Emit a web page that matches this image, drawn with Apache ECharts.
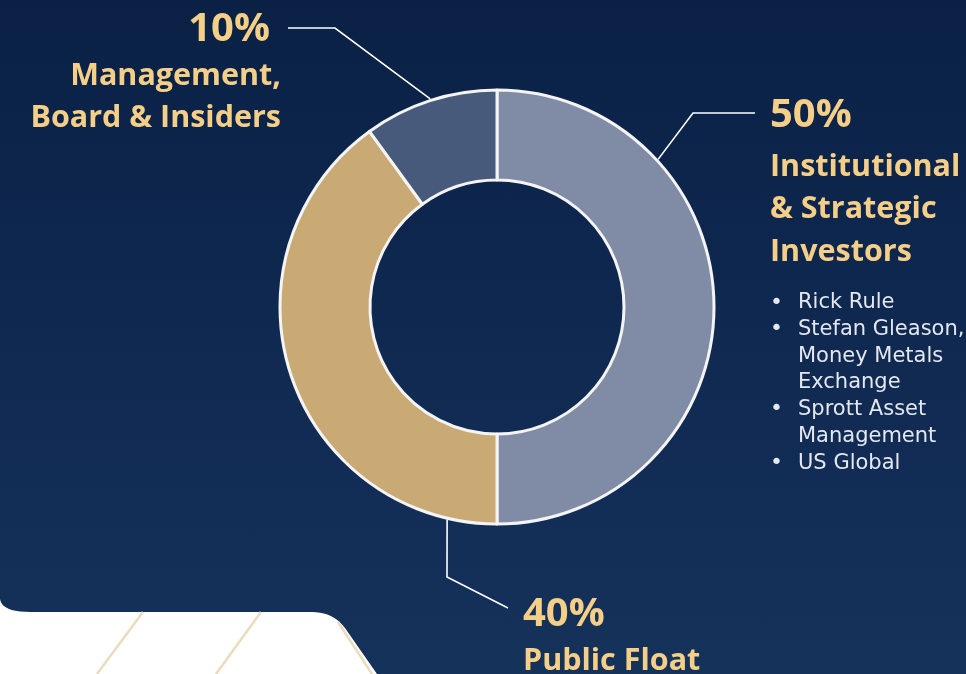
<!DOCTYPE html>
<html><head><meta charset="utf-8">
<script src="https://cdn.jsdelivr.net/npm/echarts@6/dist/echarts.min.js"></script>
<style>
html,body{margin:0;padding:0;}
#c{width:966px;height:674px;background:linear-gradient(180deg,#0a2145 0%,#0f2850 45%,#15325b 100%);}
</style>
</head><body><div id="c"></div>
<script>
// ---- data ----
const categories = ['Institutional & Strategic Investors', 'Public Float', 'Management, Board & Insiders'];
const nameLines = [['Institutional', '& Strategic', 'Investors'], ['Public Float'], ['Management,', 'Board & Insiders']];
const values = [50, 40, 10];
const investors = [['Rick Rule'], ['Stefan Gleason,', 'Money Metals', 'Exchange'], ['Sprott Asset', 'Management'], ['US Global']];

// ---- styles / layout ----
const colors = ['#808ca6', '#c9aa74', '#475a7b'];
const GOLD = '#f5cf88';
const CX = 497, CY = 307, R_IN = 127, R_OUT = 217;
const labelLayoutCfg = [
  { x: 770, y: 85, align: 'left', pTag: 'p', startAngle: 42.5, elbow: [693, 113], end: [755, 113] },
  { x: 523, y: 590, align: 'left', pTag: 'ps', startAngle: 256.8, elbow: [447, 577], end: [508, 608] },
  { x: 281, y: 5, align: 'right', pTag: 'pr', startAngle: 107.8, elbow: [335, 28], end: [288, 28] }
];

function quad(p0, p1, p2, n) {
  const pts = [];
  for (let k = 0; k <= n; k++) {
    const t = k / n, u = 1 - t;
    pts.push([u * u * p0[0] + 2 * u * t * p1[0] + t * t * p2[0], u * u * p0[1] + 2 * u * t * p1[1] + t * t * p2[1]]);
  }
  return pts;
}
const whiteShape = [].concat(
  quad([0, 599], [2, 612], [30, 612], 10),
  quad([312, 612], [333, 612], [345, 628], 10),
  [[377, 674], [0, 674]]
);

function buildLabel(i, pct) {
  let s = '{' + labelLayoutCfg[i].pTag + '|' + Math.round(pct) + '%}';
  nameLines[i].forEach(l => { s += '\n{n|' + l + '}'; });
  if (i === 0) {
    s += '\n{gap| }';
    investors.forEach(item => {
      item.forEach((l, k) => {
        s += '\n' + (k === 0 ? '{dot|•}' : '{ind| }') + '{li|' + l + '}';
      });
    });
  }
  return s;
}

const chart = echarts.init(document.getElementById('c'), null, { renderer: 'canvas' });
const headFont = '"Open Sans", "Noto Sans", sans-serif';
chart.setOption({
  backgroundColor: 'transparent',
  animation: false,
  graphic: [
    { type: 'polygon', z: 1, shape: { points: whiteShape }, style: { fill: '#ffffff' } },
    { type: 'line', z: 2, shape: { x1: 143, y1: 612, x2: 97, y2: 674 }, style: { stroke: '#e9dcbf', lineWidth: 2.5 } },
    { type: 'line', z: 2, shape: { x1: 261, y1: 612, x2: 216, y2: 674 }, style: { stroke: '#e9dcbf', lineWidth: 2.5 } },
    { type: 'line', z: 2, shape: { x1: 338, y1: 622, x2: 372, y2: 674 }, style: { stroke: '#e9dcbf', lineWidth: 2.5 } }
  ],
  series: [{
    type: 'pie',
    center: [CX, CY],
    radius: [R_IN, R_OUT],
    startAngle: 90,
    clockwise: true,
    avoidLabelOverlap: false,
    silent: true,
    itemStyle: { borderColor: '#f4f4f4', borderWidth: 3 },
    label: {
      show: true,
      position: 'outside',
      formatter: p => buildLabel(p.dataIndex, p.percent),
      rich: {
        p: { fontFamily: headFont, fontWeight: 'bold', fontSize: 40, color: GOLD, lineHeight: 61 },
        ps: { fontFamily: headFont, fontWeight: 'bold', fontSize: 40, color: GOLD, lineHeight: 50 },
        pr: { fontFamily: headFont, fontWeight: 'bold', fontSize: 40, color: GOLD, lineHeight: 50, padding: [0, 11, 0, 0] },
        n: { fontFamily: headFont, fontWeight: 'bold', fontSize: 30.5, color: GOLD, lineHeight: 42.5 },
        gap: { fontSize: 10, lineHeight: 16 },
        dot: { fontFamily: '"DejaVu Sans", sans-serif', fontSize: 22, color: '#e4e7ee', width: 28, lineHeight: 26.7 },
        ind: { fontSize: 18, width: 28, lineHeight: 26.7 },
        li: { fontFamily: '"DejaVu Sans", sans-serif', fontSize: 21, color: '#e4e7ee', lineHeight: 26.7 }
      }
    },
    labelLine: { show: true, length: 20, length2: 20, lineStyle: { color: '#ffffff', width: 1.6 } },
    labelLayout: function (params) {
      const c = labelLayoutCfg[params.dataIndex];
      const a = c.startAngle * Math.PI / 180;
      const r = R_OUT + 1.5;
      const start = [CX + r * Math.cos(a), CY - r * Math.sin(a)];
      return {
        x: c.x, y: c.y, align: c.align, verticalAlign: 'top',
        labelLinePoints: [start, c.elbow, c.end]
      };
    },
    data: categories.map((name, i) => ({
      name: name,
      value: values[i],
      itemStyle: { color: colors[i] },
      label: { align: labelLayoutCfg[i].align }
    }))
  }]
});
</script>
</body></html>
